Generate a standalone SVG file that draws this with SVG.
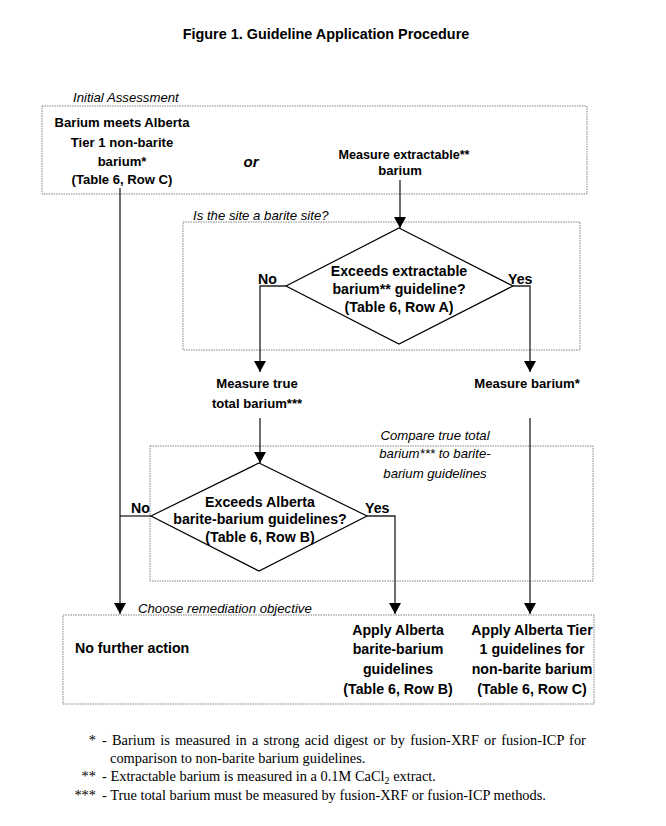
<svg xmlns="http://www.w3.org/2000/svg" width="666" height="826" viewBox="0 0 666 826">
<style>
text{font-family:"Liberation Sans",Arial,sans-serif;fill:#000}
.b{font-weight:bold;font-size:13.1px}
.d{font-weight:bold;font-size:14.2px}
.c{text-anchor:middle}
.i{font-style:italic;font-size:13.2px}
.t{font-family:"Liberation Serif","Times New Roman",serif;font-size:14.4px}
.box{fill:none;stroke:#808080;stroke-width:1;stroke-dasharray:1.5 1}
.dia{fill:#fff;stroke:#000;stroke-width:1.2}
.ln{fill:none;stroke:#222;stroke-width:1.3}
</style>
<defs>
<marker id="ah" markerUnits="userSpaceOnUse" markerWidth="11" markerHeight="12" refX="11" refY="6" orient="auto" viewBox="0 0 11 12">
<path d="M0,0 L11,6 L0,12 z" fill="#000"/>
</marker>
</defs>
<rect width="666" height="826" fill="#fff"/>
<text x="326" y="39" class="c" style="font-weight:bold;font-size:14.4px">Figure 1. Guideline Application Procedure</text>

<g id="initial-assessment">
<rect class="box" x="42" y="106" width="545" height="88"/>
<text x="73" y="102" class="i">Initial Assessment</text>
</g>
<g id="meets-tier1">
<text class="b c" x="122" y="127">Barium meets Alberta</text>
<text class="b c" x="122" y="147">Tier 1 non-barite</text>
<text class="b c" x="122" y="166">barium*</text>
<text class="b c" x="122" y="184">(Table 6, Row C)</text>
</g>
<g id="or"><text x="251" y="167" class="c" style="font-weight:bold;font-style:italic;font-size:15px">or</text></g>
<g id="measure-extractable">
<text class="b c" x="404" y="159" style="font-size:12.6px">Measure extractable**</text>
<text class="b c" x="400" y="175">barium</text>
</g>

<g id="barite-site">
<rect class="box" x="183" y="222" width="397" height="128"/>
<text x="193" y="220" class="i">Is the site a barite site?</text>
</g>
<g id="decision-a">
<polygon class="dia" points="399,228 513,286 399,344 286,286"/>
<text class="d c" x="399" y="276">Exceeds extractable</text>
<text class="d c" x="399" y="294">barium** guideline?</text>
<text class="d c" x="399" y="312">(Table 6, Row A)</text>
</g>

<g id="measure-true-total">
<text class="b c" x="257" y="388">Measure true</text>
<text class="b c" x="257" y="408">total barium***</text>
</g>
<g id="measure-barium">
<text class="b c" x="527" y="388">Measure barium*</text>
</g>

<g id="compare">
<rect class="box" x="150" y="446" width="443" height="135"/>
<text x="435" y="440" class="i c">Compare true total</text>
<text x="435" y="458" class="i c">barium*** to barite-</text>
<text x="435" y="478" class="i c">barium guidelines</text>
</g>
<g id="decision-b">
<polygon class="dia" points="259,463 367,516 259,571 151,516"/>
<text class="d c" x="260" y="507">Exceeds Alberta</text>
<text class="d c" x="260" y="524">barite-barium guidelines?</text>
<text class="d c" x="260" y="542">(Table 6, Row B)</text>
</g>

<g id="remediation">
<rect class="box" x="63" y="615" width="531" height="89"/>
<text x="138" y="613" class="i">Choose remediation objective</text>
</g>
<g id="no-further-action"><text class="d" x="75" y="653">No further action</text></g>
<g id="apply-barite">
<text class="d c" x="398" y="635">Apply Alberta</text>
<text class="d c" x="398" y="654">barite-barium</text>
<text class="d c" x="398" y="674">guidelines</text>
<text class="d c" x="398" y="694">(Table 6, Row B)</text>
</g>
<g id="apply-tier1">
<text class="d c" x="532" y="635">Apply Alberta Tier</text>
<text class="d c" x="532" y="654">1 guidelines for</text>
<text class="d c" x="532" y="674">non-barite barium</text>
<text class="d c" x="532" y="694">(Table 6, Row C)</text>
</g>

<g id="connectors">
<line class="ln" x1="400" y1="180" x2="400" y2="228" marker-end="url(#ah)"/>
<line class="ln" x1="120" y1="188" x2="120" y2="614" marker-end="url(#ah)"/>
<polyline class="ln" points="286,286 260,286 260,372" marker-end="url(#ah)"/>
<polyline class="ln" points="513,286 530,286 530,372" marker-end="url(#ah)"/>
<line class="ln" x1="260" y1="418" x2="260" y2="463" marker-end="url(#ah)"/>
<line class="ln" x1="530" y1="418" x2="530" y2="614" marker-end="url(#ah)"/>
<line class="ln" x1="151" y1="516" x2="120" y2="516"/>
<polyline class="ln" points="367,516 395,516 395,614" marker-end="url(#ah)"/>
<text class="d" x="258" y="284">No</text>
<text class="d" x="508" y="284">Yes</text>
<text class="d" x="131" y="513">No</text>
<text class="d" x="365" y="513">Yes</text>
</g>

<g id="footnotes">
<text class="t" x="96" y="745" text-anchor="end">*</text>
<text class="t" x="102" y="745" word-spacing="1.6">- Barium is measured in a strong acid digest or by fusion-XRF or fusion-ICP for</text>
<text class="t" x="110" y="763">comparison to non-barite barium guidelines.</text>
<text class="t" x="96" y="781" text-anchor="end">**</text>
<text class="t" x="102" y="781">- Extractable barium is measured in a 0.1M CaCl<tspan font-size="10" dy="3">2</tspan><tspan dy="-3"> extract.</tspan></text>
<text class="t" x="96" y="800" text-anchor="end">***</text>
<text class="t" x="102" y="800">- True total barium must be measured by fusion-XRF or fusion-ICP methods.</text>
</g>
</svg>
